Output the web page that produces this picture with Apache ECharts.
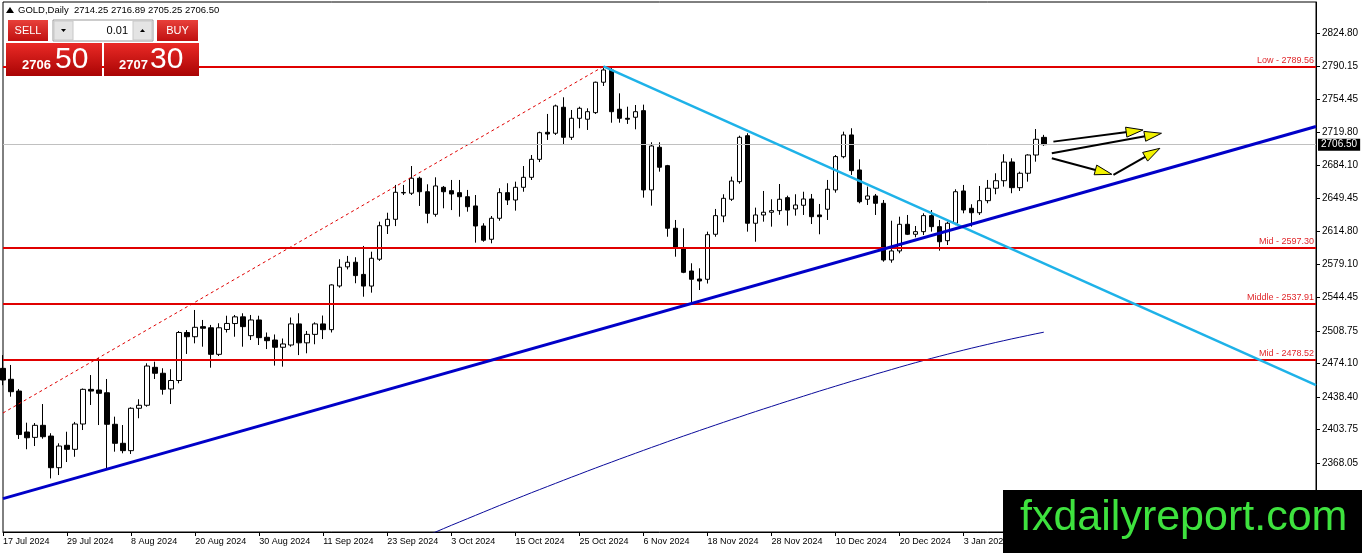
<!DOCTYPE html>
<html><head><meta charset="utf-8">
<script src="https://cdn.jsdelivr.net/npm/echarts@6/dist/echarts.min.js"></script>
<style>html,body{margin:0;padding:0;background:#fff}#c{width:1362px;height:553px}</style>
</head><body><div id="c"></div>
<script>
const FONT = "'Liberation Sans', Arial, sans-serif";
const dateLabels = ['17 Jul 2024','29 Jul 2024','8 Aug 2024','20 Aug 2024','30 Aug 2024','11 Sep 2024','23 Sep 2024','3 Oct 2024','15 Oct 2024','25 Oct 2024','6 Nov 2024','18 Nov 2024','28 Nov 2024','10 Dec 2024','20 Dec 2024','3 Jan 2025'];
const labelEvery = 8;
const slotCount = 165;
const opens = [2468.9,2457.3,2444.8,2401.3,2395.6,2408.4,2397.0,2363.4,2387.2,2382.9,
2409.8,2446.6,2445.9,2443.0,2409.5,2389.3,2381.5,2426.5,2429.7,2470.0,
2463.7,2447.0,2456.0,2507.0,2502.5,2513.2,2512.0,2483.8,2510.2,2516.5,
2523.6,2503.6,2520.3,2501.9,2499.0,2491.3,2493.7,2516.1,2496.0,2505.0,
2516.1,2510.0,2556.4,2576.7,2581.6,2568.7,2556.3,2584.8,2620.4,2627.2,
2655.2,2654.9,2670.8,2656.5,2632.5,2661.2,2657.6,2655.5,2651.2,2641.4,
2620.1,2606.0,2628.3,2655.5,2647.7,2661.2,2671.8,2690.9,2719.6,2718.6,
2746.2,2714.3,2734.5,2733.5,2740.5,2772.8,2785.8,2744.1,2734.5,2735.6,
2742.6,2658.4,2703.7,2684.2,2617.7,2597.1,2572.3,2563.8,2563.5,2611.3,
2630.7,2648.5,2667.2,2716.0,2623.0,2631.8,2634.7,2636.4,2650.2,2638.2,
2642.1,2648.8,2631.8,2637.9,2658.4,2693.7,2716.8,2679.6,2648.5,2652.0,
2644.2,2584.0,2593.6,2621.9,2611.3,2614.1,2631.1,2619.4,2604.5,2623.0,
2657.3,2638.9,2634.2,2647.0,2660.2,2668.2,2688.1,2660.8,2676.1,2695.5,
2714.25];
const highs = [2483.0,2472.5,2447.0,2411.2,2410.8,2431.0,2400.0,2389.3,2401.6,2412.0,
2447.5,2461.8,2479.6,2457.6,2417.6,2408.7,2427.5,2436.1,2474.3,2476.0,
2469.0,2468.0,2508.6,2509.6,2530.9,2520.3,2515.0,2516.8,2524.8,2525.6,
2527.4,2525.6,2524.8,2507.0,2504.9,2500.6,2522.9,2527.4,2508.6,2517.8,
2525.0,2558.2,2584.8,2588.3,2586.9,2598.9,2592.8,2624.7,2634.2,2663.7,
2663.7,2683.8,2672.5,2664.4,2671.8,2662.6,2669.0,2669.0,2658.4,2653.0,
2623.0,2630.7,2660.2,2665.5,2667.2,2683.8,2695.5,2720.3,2739.1,2749.0,
2756.8,2743.3,2746.8,2745.1,2773.4,2789.56,2789.3,2761.0,2746.8,2748.6,
2749.0,2709.0,2709.0,2685.0,2626.5,2617.7,2580.5,2575.2,2614.1,2638.2,
2653.8,2672.5,2716.0,2718.6,2639.6,2657.3,2648.5,2664.7,2652.3,2653.8,
2656.5,2654.1,2643.5,2669.0,2695.5,2720.3,2723.9,2690.9,2661.9,2654.1,
2647.7,2625.7,2630.0,2631.8,2620.1,2633.6,2637.1,2626.5,2624.7,2659.1,
2663.7,2643.2,2662.6,2669.0,2676.1,2696.3,2692.0,2677.8,2696.3,2723.1,
2716.89];
const lows = [2451.0,2438.8,2393.9,2383.0,2386.4,2394.2,2352.0,2355.6,2369.4,2375.0,
2403.4,2430.0,2408.7,2362.7,2380.4,2378.7,2378.0,2415.9,2428.2,2457.6,
2441.0,2431.0,2453.0,2484.2,2495.5,2491.9,2469.6,2482.0,2507.0,2502.5,
2491.9,2499.0,2493.7,2489.4,2471.8,2470.7,2491.9,2483.0,2484.9,2494.5,
2500.0,2507.0,2554.6,2574.0,2559.3,2545.0,2549.3,2583.0,2611.6,2620.0,
2653.0,2653.0,2641.4,2623.0,2630.0,2638.9,2637.0,2630.0,2635.3,2602.4,
2603.4,2601.7,2625.7,2642.4,2636.4,2656.5,2669.0,2688.0,2711.5,2716.8,
2706.1,2711.5,2723.9,2722.1,2739.1,2768.8,2729.8,2729.8,2728.5,2722.8,
2650.2,2641.7,2677.8,2608.7,2587.5,2570.0,2536.2,2552.1,2559.0,2608.7,
2624.1,2646.7,2665.0,2614.1,2603.4,2624.7,2619.4,2632.0,2620.5,2631.1,
2631.8,2622.2,2611.3,2626.5,2655.5,2692.0,2674.3,2644.2,2642.4,2631.8,
2582.2,2581.1,2591.1,2610.5,2608.1,2610.5,2614.1,2593.9,2599.9,2621.0,
2633.6,2619.4,2631.8,2644.2,2653.8,2661.9,2654.9,2657.3,2667.2,2688.4,
2705.25];
const closes = [2456.5,2444.1,2398.6,2395.2,2408.4,2396.3,2363.4,2386.4,2382.9,2409.8,
2446.6,2444.8,2442.4,2409.5,2389.3,2381.5,2426.5,2429.7,2471.4,2463.7,
2446.6,2456.0,2507.0,2502.5,2512.5,2511.5,2483.8,2512.0,2516.6,2523.6,
2513.2,2520.3,2501.5,2498.3,2491.3,2494.8,2516.1,2496.0,2505.0,2516.1,
2510.0,2557.5,2576.3,2581.6,2567.4,2556.3,2585.8,2620.4,2627.2,2655.9,
2655.7,2670.8,2656.5,2633.6,2662.6,2656.5,2654.1,2651.2,2640.6,2620.1,
2605.0,2628.3,2655.5,2647.7,2661.2,2671.8,2690.9,2719.2,2717.8,2747.6,
2714.3,2734.5,2745.1,2741.5,2772.8,2785.8,2741.5,2734.5,2733.5,2741.5,
2658.4,2705.1,2682.5,2617.7,2597.1,2570.9,2563.5,2561.7,2610.9,2631.1,
2649.5,2667.9,2714.3,2623.0,2631.8,2634.7,2636.4,2648.5,2637.0,2642.4,
2648.8,2630.0,2630.0,2659.1,2693.8,2716.8,2678.9,2645.9,2652.0,2644.2,
2584.0,2593.6,2621.9,2611.3,2614.1,2631.1,2619.4,2603.4,2623.0,2656.5,
2637.1,2634.2,2647.0,2660.2,2668.2,2688.0,2660.8,2676.1,2695.5,2712.2,
2706.50];
const maStart = 53;
const maValues = [2291.4,2295.0,2298.6,2302.2,2305.7,2309.2,2312.7,2316.2,2319.7,2323.2,
2326.6,2330.0,2333.4,2336.8,2340.1,2343.4,2346.7,2350.0,2353.3,2356.5,
2359.8,2363.0,2366.2,2369.3,2372.5,2375.6,2378.7,2381.8,2384.9,2387.9,
2391.0,2394.0,2397.0,2399.9,2402.9,2405.8,2408.7,2411.6,2414.5,2417.3,
2420.2,2423.0,2425.8,2428.5,2431.3,2434.0,2436.7,2439.4,2442.1,2444.8,
2447.4,2450.0,2452.6,2455.2,2457.7,2460.2,2462.8,2465.2,2467.7,2470.2,
2472.6,2475.0,2477.3,2479.6,2481.8,2484.0,2486.2,2488.3,2490.4,2492.4,
2494.4,2496.4,2498.3,2500.2,2502.0,2503.8,2505.6,2507.3];
const yTicks = [2824.80,2790.15,2754.45,2719.80,2684.10,2649.45,2614.80,2579.10,2544.45,2508.75,2474.10,2438.40,2403.75,2368.05];
const yMin = 2295.1, yMax = 2858.0;
const fibNames = ['Low','Mid','Middle','Mid'];
const fibValues = [2789.56,2597.30,2537.91,2478.52];
const lastPrice = 2706.50;
const fibTrend = [[0,2421.5],[75,2789.56]];
const cyanTrend = [[75,2789.56],[164,2451.0]];
const blueTrend = [[0,2330.5],[164,2725.8]];
const arrows = [[131.2,2709.7,142.4,2722.1],[131.0,2697.3,144.7,2718.6],[131.0,2692.0,138.5,2675.0],[138.7,2674.3,144.5,2702.6]];
const headerText = 'GOLD,Daily  2714.25 2716.89 2705.25 2706.50';
const sellBig = ['2706','50'], buyBig = ['2707','30'], lotText = '0.01';
const watermark = 'fxdailyreport.com';

const slots = Array.from({length: slotCount}, (_, i) => String(i));
const candles = opens.map((o, i) => [o, closes[i], lows[i], highs[i]]);
const maData = Array(maStart).fill(null).concat(maValues);

const chart = echarts.init(document.getElementById('c'), null, {renderer: 'canvas'});
const redGrad = {type:'linear',x:0,y:0,x2:0,y2:1,colorStops:[{offset:0,color:'#ea2a26'},{offset:1,color:'#a90404'}]};
const btnGrad = {type:'linear',x:0,y:0,x2:0,y2:1,colorStops:[{offset:0,color:'#e8403a'},{offset:1,color:'#c01010'}]};

const option = {
  animation: false,
  backgroundColor: '#ffffff',
  grid: {left: 3, right: 46, top: 2, bottom: 21, show: true, borderColor: '#000', borderWidth: 1},
  xAxis: [{
    type: 'category', data: slots, boundaryGap: false,
    axisLine: {onZero: false, lineStyle: {color: '#000', width: 1}},
    axisTick: {interval: (i) => i % labelEvery === 0, length: 4, lineStyle: {color: '#000'}},
    axisLabel: {
      interval: (i) => i % labelEvery === 0 && i / labelEvery < dateLabels.length,
      formatter: (v, i) => dateLabels[Math.round(Number(v) / labelEvery)] || '',
      align: 'left', color: '#000', fontSize: 9, fontFamily: FONT, margin: 5
    },
    splitLine: {show: false}
  }, {
    type: 'value', min: 0, max: slotCount - 1, show: false
  }],
  yAxis: {
    type: 'value', position: 'right', min: yMin, max: yMax, scale: true,
    axisLine: {show: true, onZero: false, lineStyle: {color: '#000', width: 1}},
    axisTick: {show: true, inside: false, customValues: yTicks, length: 4, lineStyle: {color: '#000'}},
    axisLabel: {customValues: yTicks, formatter: (v) => Number(v).toFixed(2), color: '#000', fontSize: 10, fontFamily: FONT, margin: 6},
    splitLine: {show: false}
  },
  series: [
    {
      type: 'line', xAxisIndex: 0, data: maData, showSymbol: false, symbol: 'none',
      lineStyle: {color: '#0a0a9a', width: 1}, z: 2, silent: true
    },
    {
      type: 'candlestick', xAxisIndex: 0, data: candles, barWidth: 5, clip: true,
      itemStyle: {color: '#ffffff', color0: '#000000', borderColor: '#000000', borderColor0: '#000000', borderWidth: 1},
      z: 3, silent: true,
      markLine: {
        silent: true, symbol: 'none', animation: false,
        data: fibValues.map((v, k) => ({
          yAxis: v,
          lineStyle: {color: '#e00000', width: 2, type: 'solid'},
          label: {show: true, position: 'insideEndTop', distance: [2, 1], formatter: fibNames[k] + ' - ' + v.toFixed(2), color: '#e0262a', fontSize: 9, fontFamily: FONT}
        })).concat([{
          yAxis: lastPrice,
          lineStyle: {color: '#c0c0c0', width: 1, type: 'solid'},
          label: {show: true, position: 'end', distance: 2, formatter: lastPrice.toFixed(2), color: '#fff', backgroundColor: '#000', padding: [1, 3, 1, 3], fontSize: 10, fontFamily: FONT}
        }])
      }
    },
    {
      type: 'line', xAxisIndex: 1, data: fibTrend, showSymbol: false, symbol: 'none',
      lineStyle: {color: '#e00000', width: 1, type: [3, 3]}, z: 4, silent: true
    },
    {
      type: 'line', xAxisIndex: 1, data: cyanTrend, showSymbol: false, symbol: 'none',
      lineStyle: {color: '#1eb2e8', width: 2.5}, z: 5, silent: true
    },
    {
      type: 'line', xAxisIndex: 1, data: blueTrend, showSymbol: false, symbol: 'none',
      lineStyle: {color: '#0000c8', width: 3}, z: 5, silent: true
    },
    {
      type: 'custom', xAxisIndex: 1, data: arrows, encode: {x: [0, 2], y: [1, 3]}, z: 6, silent: true,
      renderItem: (params, api) => {
        const a = api.coord([api.value(0), api.value(1)]);
        const b = api.coord([api.value(2), api.value(3)]);
        const dx = b[0] - a[0], dy = b[1] - a[1], len = Math.hypot(dx, dy);
        const ux = dx / len, uy = dy / len, hl = 17, hw = 5;
        const bx = b[0] - ux * hl, by = b[1] - uy * hl;
        return {type: 'group', children: [
          {type: 'line', shape: {x1: a[0], y1: a[1], x2: bx + ux * 3, y2: by + uy * 3}, style: {stroke: '#000', lineWidth: 2}},
          {type: 'polygon', shape: {points: [[b[0], b[1]], [bx - uy * hw, by + ux * hw], [bx + uy * hw, by - ux * hw]]}, style: {fill: '#f2f200', stroke: '#000', lineWidth: 1}}
        ]};
      }
    }
  ],
  graphic: [
    {type: 'polygon', z: 100, shape: {points: [[6, 13], [10, 7], [14, 13]]}, style: {fill: '#000'}},
    {type: 'text', z: 100, x: 18, y: 10, style: {text: headerText, fill: '#000', font: '9.5px ' + FONT, verticalAlign: 'middle'}},
    {type: 'rect', z: 100, shape: {x: 8, y: 20, width: 40, height: 21}, style: {fill: btnGrad}},
    {type: 'text', z: 101, x: 28, y: 31, style: {text: 'SELL', fill: '#fff', font: '11px ' + FONT, align: 'center', verticalAlign: 'middle'}},
    {type: 'rect', z: 100, shape: {x: 53, y: 20, width: 100, height: 21}, style: {fill: '#fff', stroke: '#9a9a9a', lineWidth: 1}},
    {type: 'rect', z: 101, shape: {x: 54, y: 21, width: 19, height: 19}, style: {fill: '#e4e4e4', stroke: '#c8c8c8'}},
    {type: 'rect', z: 101, shape: {x: 133, y: 21, width: 19, height: 19}, style: {fill: '#e4e4e4', stroke: '#c8c8c8'}},
    {type: 'polygon', z: 102, shape: {points: [[61, 29], [66, 29], [63.5, 32]]}, style: {fill: '#000'}},
    {type: 'polygon', z: 102, shape: {points: [[140, 32], [145, 32], [142.5, 29]]}, style: {fill: '#000'}},
    {type: 'text', z: 101, x: 128, y: 31, style: {text: lotText, fill: '#000', font: '11px ' + FONT, align: 'right', verticalAlign: 'middle'}},
    {type: 'rect', z: 100, shape: {x: 157, y: 20, width: 41, height: 21}, style: {fill: btnGrad}},
    {type: 'text', z: 101, x: 177.5, y: 31, style: {text: 'BUY', fill: '#fff', font: '11px ' + FONT, align: 'center', verticalAlign: 'middle'}},
    {type: 'rect', z: 100, shape: {x: 6, y: 43, width: 96, height: 33}, style: {fill: redGrad}},
    {type: 'rect', z: 100, shape: {x: 104, y: 43, width: 95, height: 33}, style: {fill: redGrad}},
    {type: 'text', z: 101, x: 22, y: 72, style: {text: sellBig[0], fill: '#fff', font: 'bold 13px ' + FONT, verticalAlign: 'bottom'}},
    {type: 'text', z: 101, x: 55, y: 75, style: {text: sellBig[1], fill: '#fff', font: '30px ' + FONT, verticalAlign: 'bottom'}},
    {type: 'text', z: 101, x: 119, y: 72, style: {text: buyBig[0], fill: '#fff', font: 'bold 13px ' + FONT, verticalAlign: 'bottom'}},
    {type: 'text', z: 101, x: 150, y: 75, style: {text: buyBig[1], fill: '#fff', font: '30px ' + FONT, verticalAlign: 'bottom'}},
    {type: 'rect', z: 100, shape: {x: 1003, y: 490, width: 359, height: 63}, style: {fill: '#000'}},
    {type: 'text', z: 101, x: 1020, y: 518, style: {text: watermark, fill: '#3ee23e', font: '43px ' + FONT, verticalAlign: 'middle'}}
  ]
};
chart.setOption(option);
</script>
</body></html>
